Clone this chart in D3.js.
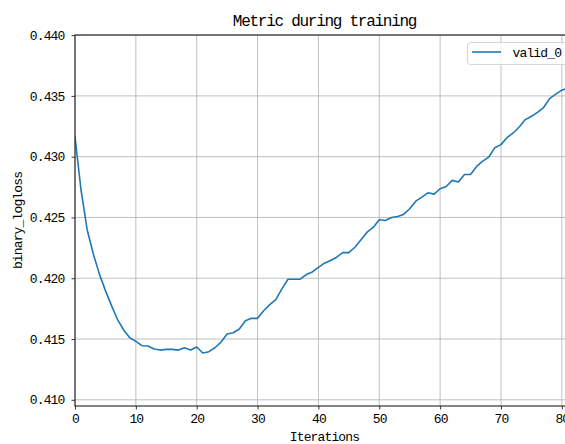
<!DOCTYPE html>
<html>
<head>
<meta charset="utf-8">
<script src="https://cdn.jsdelivr.net/npm/d3@7"></script>
<style>
  html, body { margin: 0; padding: 0; background: #fff; }
  svg { display: block; }
  text { font-family: "Liberation Mono", "DejaVu Sans Mono", monospace; fill: #000; }
</style>
</head>
<body>
<svg id="chart" width="565" height="444"></svg>
<script>
// binary_logloss of the validation set, one value per boosting iteration
const seriesName = "valid_0";
const validLogloss = [
  0.43162, 0.42722, 0.42399, 0.42201, 0.42036, 0.41898, 0.41775, 0.41659, 0.41574, 0.41510,
  0.41481, 0.41445, 0.41442, 0.41418, 0.41409, 0.41415, 0.41415, 0.41409, 0.41428, 0.41409,
  0.41434, 0.41385, 0.41396, 0.41428, 0.41475, 0.41541, 0.41552, 0.41582, 0.41651, 0.41670,
  0.41670, 0.41733, 0.41783, 0.41824, 0.41912, 0.41992, 0.41992, 0.41992, 0.42030, 0.42052,
  0.42090, 0.42124, 0.42146, 0.42173, 0.42211, 0.42211, 0.42255, 0.42316, 0.42379, 0.42418,
  0.42481, 0.42475, 0.42500, 0.42508, 0.42525, 0.42572, 0.42634, 0.42667, 0.42703, 0.42692,
  0.42736, 0.42755, 0.42805, 0.42791, 0.42854, 0.42854, 0.42920, 0.42964, 0.42997, 0.43074,
  0.43099, 0.43157, 0.43195, 0.43244, 0.43305, 0.43332, 0.43365, 0.43404, 0.43478, 0.43514,
  0.43547, 0.43565
];
const xTicks = [0, 10, 20, 30, 40, 50, 60, 70, 80];
const yTicks = [0.410, 0.415, 0.420, 0.425, 0.430, 0.435, 0.440];
const titleText = "Metric during training";
const xLabel = "Iterations";
const yLabel = "binary_logloss";

const svg = d3.select("#chart");
const plot = { left: 75, top: 35, right: 574, bottom: 406 };

// limits: x spans the iteration count, y pads the value range by 20% each side
const nIter = validLogloss.length;
const vMin = d3.min(validLogloss), vMax = d3.max(validLogloss);
const pad = (vMax - vMin) * 0.2;

const x = d3.scaleLinear().domain([0, nIter]).range([plot.left, plot.right]);
const y = d3.scaleLinear().domain([vMin - pad, vMax + pad]).range([plot.bottom, plot.top]);

svg.append("defs").append("clipPath").attr("id", "plotClip")
  .append("rect")
  .attr("x", plot.left).attr("y", plot.top)
  .attr("width", plot.right - plot.left).attr("height", plot.bottom - plot.top);

// grid
const grid = svg.append("g").attr("stroke", "#b0b0b0").attr("stroke-width", 0.8);
grid.selectAll("line.gx").data(xTicks).join("line")
  .attr("x1", d => x(d)).attr("x2", d => x(d))
  .attr("y1", plot.top).attr("y2", plot.bottom);
grid.selectAll("line.gy").data(yTicks).join("line")
  .attr("x1", plot.left).attr("x2", plot.right)
  .attr("y1", d => y(d)).attr("y2", d => y(d));

// metric curve
const line = d3.line().x((d, i) => x(i)).y(d => y(d));
svg.append("path")
  .datum(validLogloss)
  .attr("clip-path", "url(#plotClip)")
  .attr("fill", "none")
  .attr("stroke", "#1f77b4")
  .attr("stroke-width", 1.6)
  .attr("stroke-linejoin", "round")
  .attr("stroke-linecap", "square")
  .attr("d", line);

// axes
const tickStyle = g => {
  g.select(".domain").remove();
  g.selectAll(".tick line").attr("stroke", "#222").attr("stroke-width", 0.9);
  g.selectAll(".tick text")
    .attr("font-family", "'Liberation Mono', 'DejaVu Sans Mono', monospace")
    .attr("font-size", 13)
    .attr("letter-spacing", -0.86)
    .attr("fill", "#111");
};

svg.append("g")
  .attr("transform", `translate(0,${plot.bottom})`)
  .call(d3.axisBottom(x).tickValues(xTicks).tickFormat(d3.format("d")).tickSize(3.5).tickPadding(4))
  .call(tickStyle);

svg.append("g")
  .attr("transform", `translate(${plot.left},0)`)
  .call(d3.axisLeft(y).tickValues(yTicks).tickFormat(d3.format(".3f")).tickSize(3.5).tickPadding(7))
  .call(tickStyle);

// spines
svg.append("rect")
  .attr("x", plot.left).attr("y", plot.top)
  .attr("width", plot.right - plot.left).attr("height", plot.bottom - plot.top)
  .attr("fill", "none").attr("stroke", "#222").attr("stroke-width", 1.1);

// title and axis labels
svg.append("text")
  .attr("x", (plot.left + plot.right) / 2).attr("y", 26)
  .attr("text-anchor", "middle")
  .attr("font-size", 16).attr("letter-spacing", -1.27)
  .text(titleText);

svg.append("text")
  .attr("x", (plot.left + plot.right) / 2).attr("y", 440.5)
  .attr("text-anchor", "middle")
  .attr("font-size", 13).attr("letter-spacing", -0.86)
  .text(xLabel);

svg.append("text")
  .attr("transform", `translate(22,${(plot.top + plot.bottom) / 2}) rotate(-90)`)
  .attr("text-anchor", "middle")
  .attr("font-size", 13).attr("letter-spacing", -0.86)
  .text(yLabel);

// legend
const legend = svg.append("g");
legend.append("rect")
  .attr("x", 467.5).attr("y", 42.5).attr("width", 100).attr("height", 22)
  .attr("rx", 3)
  .attr("fill", "#fff").attr("fill-opacity", 0.8)
  .attr("stroke", "#d5d5d5").attr("stroke-width", 1);
legend.append("line")
  .attr("x1", 472).attr("x2", 501).attr("y1", 52).attr("y2", 52)
  .attr("stroke", "#1f77b4").attr("stroke-width", 1.6);
legend.append("text")
  .attr("x", 512.5).attr("y", 57)
  .attr("font-size", 13).attr("letter-spacing", -0.86)
  .text(seriesName);
</script>
</body>
</html>
